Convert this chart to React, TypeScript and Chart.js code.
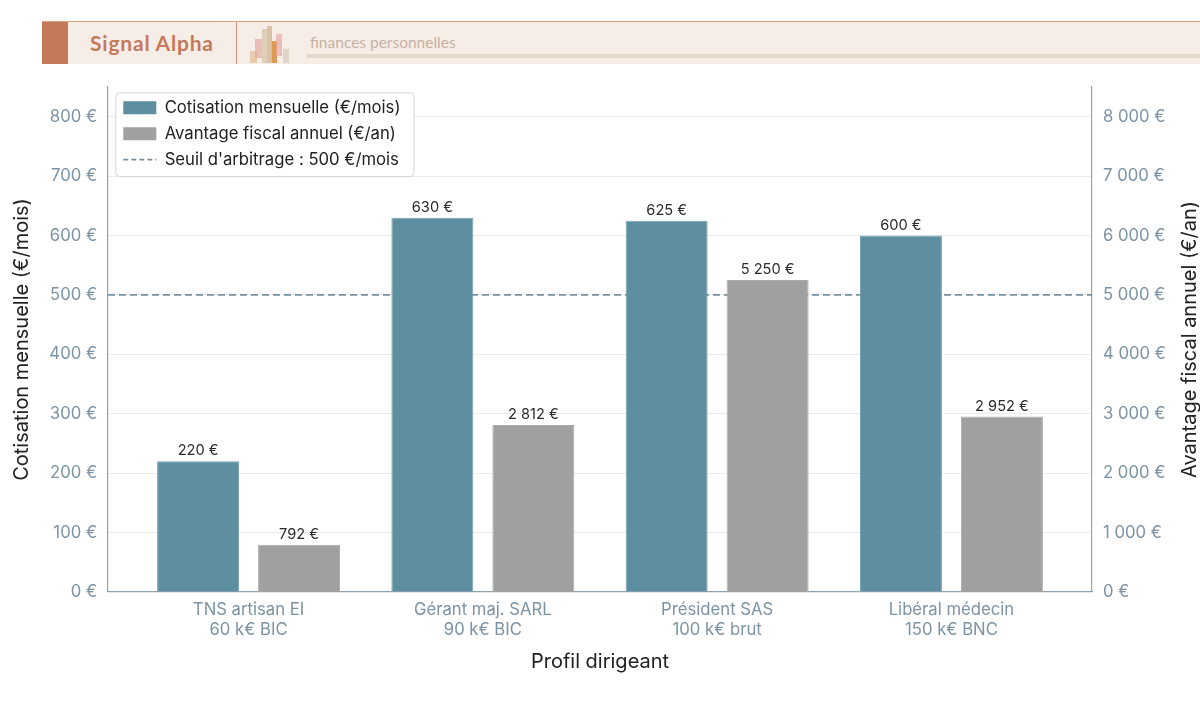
import React, { useEffect, useRef } from 'react';
import { Chart, registerables } from 'chart.js';

Chart.register(...registerables);

// Données
const profils = [
  ['TNS artisan EI', '60 k€ BIC'],
  ['Gérant maj. SARL', '90 k€ BIC'],
  ['Président SAS', '100 k€ brut'],
  ['Libéral médecin', '150 k€ BNC'],
];
const cotisationMensuelle = [220, 630, 625, 600];
const avantageFiscalAnnuel = [792, 2812, 5250, 2952];
const seuilArbitrage = 500;

// Graduations des deux axes verticaux
const ticksGauche = [0, 100, 200, 300, 400, 500, 600, 700, 800];
const ticksDroite = [0, 1000, 2000, 3000, 4000, 5000, 6000, 7000, 8000];

// Bornes des axes
const X_MIN = -0.6;
const X_MAX = 3.6;
const Y_MAX = 850;
const Y1_MAX = 8500;

const BLEU = '#5e8fa1';
const GRIS = '#a0a0a0';
const AXE = '#8fa3b2';
const TICK = '#7b93a5';
const TEXTE = '#222222';
const TITRE_DROITE = 'Avantage fiscal annuel (€/an)';

const euro = (v: number) =>
  String(Math.round(v)).replace(/\B(?=(\d{3})+(?!\d))/g, ' ') + ' €';

// Étiquettes au-dessus des barres
const etiquettesBarres = {
  id: 'etiquettesBarres',
  afterDatasetsDraw(chart: any) {
    const ctx = chart.ctx;
    ctx.save();
    ctx.font = '14.6px Inter';
    ctx.fillStyle = '#2b2b2b';
    ctx.textAlign = 'center';
    ctx.textBaseline = 'alphabetic';
    chart.data.datasets.forEach((ds: any, i: number) => {
      if (ds.type === 'line') return;
      const meta = chart.getDatasetMeta(i);
      meta.data.forEach((bar: any, j: number) => {
        ctx.fillText(euro(ds.data[j].y), bar.x, bar.y - 6);
      });
    });
    ctx.restore();
  },
};

// Cadre blanc de la légende, placée dans la zone du graphique
const cadreLegende = {
  id: 'cadreLegende',
  afterInit(chart: any) {
    const legende = chart.legend;
    if (legende) {
      legende._layers = () => [{ z: 1, draw: (area: any) => legende.draw(area) }];
    }
  },
  afterLayout(chart: any) {
    const legende = chart.legend;
    if (!legende) return;
    legende.left = chart.chartArea.left + 6;
    legende.top = chart.chartArea.top + 3;
    legende.bottom = chart.chartArea.bottom;
  },
  afterDatasetsDraw(chart: any) {
    const boxes = chart.legend?.legendHitBoxes;
    if (!boxes || !boxes.length) return;
    const l = Math.min(...boxes.map((b: any) => b.left)) - 8;
    const t = Math.min(...boxes.map((b: any) => b.top)) - 7;
    const r = Math.max(...boxes.map((b: any) => b.left + b.width)) + 13;
    const bt = Math.max(...boxes.map((b: any) => b.top + b.height)) + 8;
    const ctx = chart.ctx;
    ctx.save();
    ctx.beginPath();
    ctx.roundRect(l + 0.5, t + 0.5, r - l, bt - t, 4);
    ctx.fillStyle = 'rgba(255,255,255,0.95)';
    ctx.fill();
    ctx.strokeStyle = '#d4d4d4';
    ctx.lineWidth = 1;
    ctx.stroke();
    ctx.restore();
  },
};

// Titre de l'axe droit, lu de bas en haut
const titreDroite = {
  id: 'titreDroite',
  afterDraw(chart: any) {
    const { ctx, chartArea } = chart;
    ctx.save();
    ctx.translate(chart.width - 10, (chartArea.top + chartArea.bottom) / 2);
    ctx.rotate(-Math.PI / 2);
    ctx.font = '20px Inter';
    ctx.fillStyle = TEXTE;
    ctx.textAlign = 'center';
    ctx.textBaseline = 'middle';
    ctx.fillText(TITRE_DROITE, 0, 0);
    ctx.restore();
  },
};

const GraphiqueCotisations: React.FC = () => {
  const canvasRef = useRef<HTMLCanvasElement | null>(null);

  useEffect(() => {
    if (!canvasRef.current) return;
    const police = { family: 'Inter', size: 16.7 };
    const chart = new Chart(canvasRef.current, {
      type: 'bar',
      data: {
        datasets: [
          {
            label: 'Cotisation mensuelle (€/mois)',
            data: cotisationMensuelle.map((y, i) => ({ x: i, y })),
            backgroundColor: BLEU,
            borderColor: '#74a0b0',
            borderWidth: 1,
            yAxisID: 'y',
            order: 1,
          },
          {
            label: 'Avantage fiscal annuel (€/an)',
            data: avantageFiscalAnnuel.map((y, i) => ({ x: i, y })),
            backgroundColor: GRIS,
            borderColor: '#ababab',
            borderWidth: 1,
            yAxisID: 'y1',
            order: 1,
          },
          {
            type: 'line',
            label: "Seuil d'arbitrage : 500 €/mois",
            data: [
              { x: X_MIN, y: seuilArbitrage },
              { x: X_MAX, y: seuilArbitrage },
            ],
            borderColor: '#7890a0',
            backgroundColor: '#7890a0',
            borderWidth: 1.6,
            borderDash: [7, 4],
            pointRadius: 0,
            yAxisID: 'y',
            order: 2,
          } as any,
        ],
      },
      options: {
        responsive: true,
        maintainAspectRatio: false,
        animation: false,
        layout: { padding: { top: 17, left: 0, right: 0, bottom: 47 } },
        datasets: {
          bar: { categoryPercentage: 0.862, barPercentage: 0.812 },
        },
        plugins: {
          tooltip: { enabled: false },
          legend: {
            position: 'chartArea',
            align: 'start',
            labels: {
              usePointStyle: true,
              pointStyleWidth: 33,
              boxHeight: 13,
              padding: 9.3,
              color: TEXTE,
              font: police,
              generateLabels: (c: any) =>
                c.data.datasets.map((ds: any, i: number) => ({
                  text: ds.label,
                  fillStyle: ds.backgroundColor,
                  strokeStyle: ds.borderColor,
                  lineWidth: ds.type === 'line' ? 1.6 : 0,
                  lineDash: ds.type === 'line' ? [5, 3] : [],
                  pointStyle: ds.type === 'line' ? 'line' : 'rect',
                  fontColor: TEXTE,
                  hidden: false,
                  datasetIndex: i,
                })),
            },
          } as any,
        },
        scales: {
          x: {
            type: 'linear',
            min: X_MIN,
            max: X_MAX,
            offset: false,
            grid: { display: false, drawTicks: false },
            border: { color: AXE, width: 1.2 },
            ticks: {
              stepSize: 1,
              includeBounds: false,
              autoSkip: false,
              maxRotation: 0,
              padding: 8,
              color: TICK,
              font: police,
              callback: (v: any) =>
                Number.isInteger(v) && profils[v] ? profils[v] : '',
            },
            title: {
              display: true,
              text: 'Profil dirigeant',
              color: TEXTE,
              font: { family: 'Inter', size: 20 },
              padding: { top: 2, bottom: 0 },
            },
          },
          y: {
            position: 'left',
            min: 0,
            max: Y_MAX,
            grid: { color: '#ebebeb', drawTicks: false },
            border: { color: AXE, width: 1.2 },
            ticks: {
              padding: 11,
              color: TICK,
              font: police,
              callback: (v: any) => euro(Number(v)),
            },
            title: {
              display: true,
              text: 'Cotisation mensuelle (€/mois)',
              color: TEXTE,
              font: { family: 'Inter', size: 20 },
              padding: { top: 10, bottom: 0 },
            },
            afterBuildTicks: (s: any) => {
              s.ticks = ticksGauche.map((value) => ({ value }));
            },
            afterFit: (s: any) => {
              s.width = 108;
              s.paddingTop = 0;
              s.paddingBottom = 0;
            },
          },
          y1: {
            position: 'right',
            min: 0,
            max: Y1_MAX,
            grid: { display: false, drawTicks: false },
            border: { color: AXE, width: 1.2 },
            ticks: {
              padding: 11,
              color: TICK,
              font: police,
              callback: (v: any) => euro(Number(v)),
            },
            title: { display: false },
            afterBuildTicks: (s: any) => {
              s.ticks = ticksDroite.map((value) => ({ value }));
            },
            afterFit: (s: any) => {
              s.width = 108;
              s.paddingTop = 0;
              s.paddingBottom = 0;
            },
          },
        },
      } as any,
      plugins: [etiquettesBarres, cadreLegende, titreDroite],
    });
    return () => chart.destroy();
  }, []);

  return (
    <div style={{ position: 'absolute', left: 0, top: 70, width: 1200, height: 651 }}>
      <canvas ref={canvasRef}></canvas>
    </div>
  );
};

// Petit logo décoratif de l'en-tête
const logoBarres: [number, number, number, number, string][] = [
  [250, 50, 7, 12, 'rgba(232,200,168,0.9)'],
  [255, 38, 7, 19, 'rgba(226,160,155,0.6)'],
  [262, 28, 5, 34, 'rgba(222,204,180,0.9)'],
  [267, 25, 5, 37, 'rgba(214,190,160,0.9)'],
  [272, 40, 5, 22, 'rgba(217,138,58,0.85)'],
  [276, 33, 6, 22, 'rgba(226,160,155,0.6)'],
  [283, 48, 6, 14, 'rgba(222,212,198,0.95)'],
];

const EnTete: React.FC = () => (
  <div style={{ position: 'absolute', left: 42, top: 21, width: 1158, height: 43, background: '#f6ede7', borderTop: '1.5px solid #dba083', boxSizing: 'border-box' }}>
    <div style={{ position: 'absolute', left: 0, top: 0, width: 26, height: '100%', background: '#c47a5a' }} />
    <div style={{ position: 'absolute', left: 48, top: 8, fontFamily: 'Lato', fontWeight: 700, fontSize: 21, letterSpacing: 0.8, color: '#c47a5a' }}>
      Signal Alpha
    </div>
    <div style={{ position: 'absolute', left: 194, top: 0, width: 1, height: '100%', background: '#d9977a' }} />
    {logoBarres.map(([x, y, w, h, c], i) => (
      <div key={i} style={{ position: 'absolute', left: x - 42, top: y - 21, width: w, height: h, background: c }} />
    ))}
    <div style={{ position: 'absolute', left: 268, top: 11, fontFamily: 'Lato', fontSize: 15.5, color: '#c9b2a1' }}>
      finances personnelles
    </div>
    <div style={{ position: 'absolute', left: 265, top: 32, right: 0, height: 4, background: '#e6d7cb' }} />
  </div>
);

export default function App() {
  return (
    <div style={{ position: 'fixed', left: 0, top: 0, width: 1200, height: 721, background: '#ffffff', overflow: 'hidden' }}>
      <EnTete />
      <GraphiqueCotisations />
    </div>
  );
}
